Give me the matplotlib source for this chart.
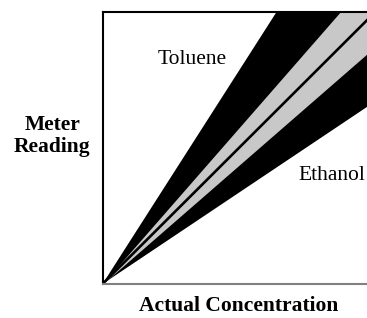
import numpy as np
import matplotlib
matplotlib.use("Agg")
import matplotlib.pyplot as plt

plt.rcParams['font.family'] = ['Liberation Serif', 'DejaVu Serif']

# meter reading at full actual concentration (x = 1) for each boundary
conc = np.array([0.0, 1.0])
black_hi = 1.52    # toluene side
grey_hi = 1.113
ideal = 0.97
grey_lo = 0.846
black_lo = 0.651   # ethanol side

fig = plt.figure(figsize=(3.67, 3.18), dpi=100)
ax = fig.add_axes([0.2793, 0.1069, 0.7207, 0.8553])

#wedges-------------------------------------------
ax.fill_between(conc, black_lo*conc, black_hi*conc, color='black', lw=0)
ax.fill_between(conc, grey_lo*conc, grey_hi*conc, color='#c8c8c8', lw=0)
ax.plot(conc, ideal*conc, color='black', lw=1.9)

#labels--------------------------------------------
ax.text(0.338, 0.824, "Toluene", fontsize=15.5, ha='center', va='center')
ax.text(0.866, 0.399, "Ethanol", fontsize=15.5, ha='center', va='center')

ax.set_xlim(0, 1)
ax.set_ylim(0, 1)
ax.set_xticks([])
ax.set_yticks([])
ax.spines['right'].set_visible(False)
ax.spines['left'].set_linewidth(1.5)
ax.spines['top'].set_linewidth(1.5)
ax.spines['bottom'].set_linewidth(1.5)
ax.spines['bottom'].set_color('#808080')

fig.text(0.143, 0.572, "Meter\nReading", fontsize=15.5, fontweight='bold',
         ha='center', va='center', linespacing=1.1)
fig.text(0.651, 0.006, "Actual Concentration", fontsize=15.5, fontweight='bold',
         ha='center', va='bottom')

fig.savefig("out.png", dpi=100)
